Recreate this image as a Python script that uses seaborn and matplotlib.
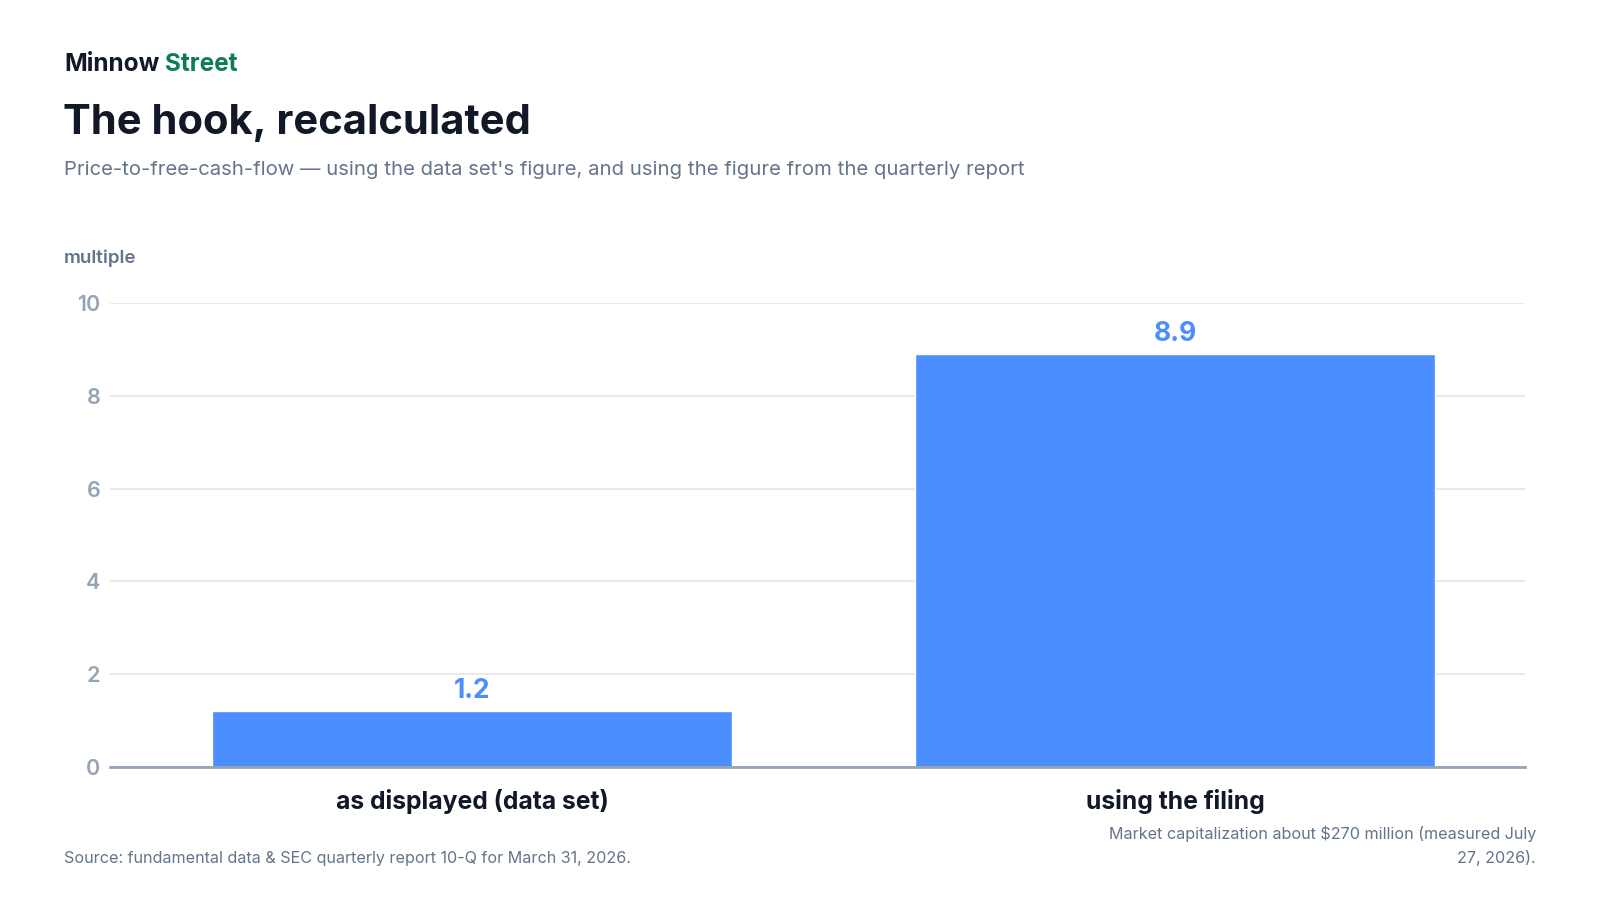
import matplotlib
matplotlib.use("Agg")
import matplotlib.pyplot as plt
import seaborn as sns
import pandas as pd

# Data
categories = ["as displayed (data set)", "using the filing"]
multiples = [1.2, 8.9]
value_labels = ["1.2", "8.9"]
y_ticks = [0, 2, 4, 6, 8, 10]

df = pd.DataFrame({"case": categories, "multiple": multiples})

sns.set_theme(style="white")
plt.rcParams["font.family"] = ["Inter", "DejaVu Sans"]

DARK = "#111827"
SLATE = "#64748b"
TICK = "#94a3b8"
BLUE = "#4c8dff"
GREEN = "#0f7b5a"

W, H = 1600, 900
fig = plt.figure(figsize=(16, 9), dpi=100)
fig.patch.set_facecolor("white")

def fy(px):
    return 1 - px / H

ax = fig.add_axes([110 / W, fy(767), (1525 - 110) / W, fy(303) - fy(767)])
sns.barplot(data=df, x="case", y="multiple", color=BLUE, width=0.74,
            saturation=1, ax=ax)

ax.set_ylim(0, 10)
ax.set_xlim(-0.515, 1.498)
ax.set_yticks(y_ticks)
ax.set_yticklabels([str(t) for t in y_ticks])
ax.grid(axis="y", color="#e5e7eb", linewidth=1.3)
ax.set_axisbelow(True)
for s in ["top", "right", "left"]:
    ax.spines[s].set_visible(False)
ax.spines["bottom"].set_color(TICK)
ax.spines["bottom"].set_linewidth(2)
ax.set_xlabel("")
ax.set_ylabel("")
ax.tick_params(axis="y", length=0, pad=7, labelsize=15.5, labelcolor=TICK)
ax.tick_params(axis="x", length=0, pad=16, labelsize=17.8, labelcolor=DARK)
for lbl in ax.get_yticklabels():
    lbl.set_fontweight("semibold")
for lbl in ax.get_xticklabels():
    lbl.set_fontweight("bold")

ax.bar_label(ax.containers[0], labels=value_labels, padding=5,
             fontsize=19, fontweight="bold", color=BLUE)

# Header
fig.text(64 / W, fy(71), "Minnow", fontsize=17.5, fontweight="bold",
         color=DARK, va="baseline")
fig.text(165 / W, fy(71), "Street", fontsize=17.5, fontweight="bold",
         color=GREEN, va="baseline")
fig.text(63 / W, fy(134), "The hook, recalculated", fontsize=30,
         fontweight="bold", color=DARK, va="baseline")
fig.text(64 / W, fy(175),
         "Price-to-free-cash-flow \u2014 using the data set's figure, and using the figure from the quarterly report",
         fontsize=14.6, color=SLATE, va="baseline")
fig.text(64 / W, fy(263), "multiple", fontsize=13.5, fontweight="semibold",
         color=SLATE, va="baseline")

# Footer
fig.text(64 / W, fy(863), "Source: fundamental data & SEC quarterly report 10-Q for March 31, 2026.",
         fontsize=11.6, color=SLATE, va="baseline")
fig.text(1536 / W, fy(839), "Market capitalization about $270 million (measured July",
         fontsize=11.6, color=SLATE, va="baseline", ha="right")
fig.text(1536 / W, fy(863), "27, 2026).",
         fontsize=11.6, color=SLATE, va="baseline", ha="right")

fig.savefig("out.png", dpi=100, facecolor="white")
